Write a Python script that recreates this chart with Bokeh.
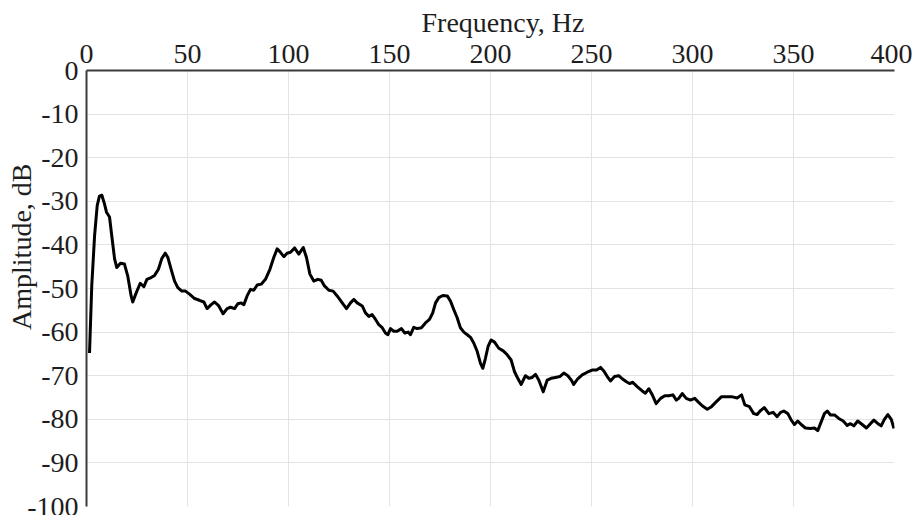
from bokeh.plotting import figure
from bokeh.models import Range1d, FixedTicker, LinearAxis, Grid, Title
from bokeh.embed import file_html
from bokeh.resources import INLINE

freq = [1.5, 2.6, 4.0, 5.3, 6.4, 7.6, 8.9, 9.9, 11.4, 12.5, 13.9, 15.0, 16.8, 18.8, 20.4,
        22.1, 22.9, 24.6, 26.6, 28.4, 29.9, 32.0, 33.7, 35.6, 37.3, 39.0, 40.3, 41.9, 43.6,
        45.2, 47.2, 49.0, 51.0, 53.5, 55.9, 58.1, 59.7, 61.7, 63.4, 65.5, 67.6, 69.6, 71.3,
        73.3, 74.9, 76.6, 77.9, 79.5, 81.2, 82.8, 84.5, 86.5, 88.6, 90.8, 92.7, 94.4, 96.0,
        97.7, 99.3, 101.0, 103.0, 105.1, 107.3, 108.9, 110.6, 112.5, 114.5, 116.2, 117.8,
        120.0, 122.1, 124.1, 126.6, 128.7, 130.7, 132.3, 134.0, 136.5, 138.1, 139.8, 141.4,
        143.1, 144.7, 146.4, 148.0, 149.2, 150.5, 152.1, 153.8, 155.9, 157.6, 159.3, 160.4,
        162.0, 163.7, 165.8, 167.8, 169.8, 171.4, 172.8, 174.4, 176.4, 178.6, 180.2, 181.8,
        183.5, 185.1, 186.8, 188.5, 190.1, 191.7, 193.4, 195.0, 196.2, 197.5, 198.8, 200.3,
        202.0, 204.1, 206.3, 208.3, 210.2, 211.9, 213.5, 215.2, 217.3, 219.0, 220.6, 222.3,
        223.9, 226.1, 228.1, 230.0, 232.2, 234.3, 236.3, 238.3, 240.0, 241.2, 243.2, 245.4,
        247.9, 250.3, 252.5, 254.5, 256.1, 257.8, 259.4, 261.4, 263.5, 265.2, 267.3, 268.8,
        270.4, 272.6, 275.1, 276.7, 278.4, 280.0, 282.0, 284.2, 286.3, 288.3, 290.3, 292.0,
        293.2, 294.9, 296.9, 299.0, 301.1, 302.8, 304.8, 307.3, 309.4, 311.7, 314.4, 316.7,
        319.3, 322.1, 324.3, 325.9, 328.2, 330.3, 332.0, 333.7, 335.5, 337.8, 339.9, 341.9,
        343.6, 345.2, 347.2, 348.9, 350.5, 352.1, 353.8, 355.9, 358.4, 360.4, 362.0, 363.7,
        365.3, 366.7, 368.3, 370.3, 372.4, 374.6, 376.6, 378.2, 379.9, 381.8, 384.0, 386.1,
        388.1, 389.8, 391.8, 393.4, 395.0, 396.7, 398.4, 399.7]

amplitude = [-64.8, -49.4, -37.9, -31.0, -28.8, -28.6, -30.6, -32.5, -33.6, -37.9, -43.2,
             -45.2, -44.2, -44.4, -47.1, -51.7, -53.1, -51.0, -48.8, -49.6, -47.9, -47.5,
             -47.0, -45.6, -43.1, -41.9, -42.9, -45.6, -48.3, -49.8, -50.6, -50.6, -51.3,
             -52.3, -52.7, -53.1, -54.6, -53.7, -53.1, -54.0, -55.8, -54.6, -54.3, -54.6,
             -53.5, -53.3, -53.7, -51.7, -50.2, -50.4, -49.2, -49.0, -47.9, -45.6, -42.9,
             -40.9, -41.7, -42.7, -41.9, -41.7, -40.7, -42.1, -40.6, -42.9, -46.7, -48.3,
             -47.9, -48.1, -49.4, -50.4, -50.6, -51.7, -53.3, -54.6, -53.3, -52.5, -53.3,
             -54.0, -55.6, -56.4, -56.0, -57.1, -58.3, -59.0, -60.2, -60.6, -59.2, -59.8,
             -59.8, -59.2, -60.2, -60.0, -60.6, -58.9, -59.2, -59.0, -57.9, -57.1, -55.6,
             -53.3, -52.1, -51.6, -51.7, -52.9, -54.8, -56.7, -59.0, -60.0, -60.6, -61.2,
             -62.5, -64.4, -67.1, -68.3, -66.0, -63.3, -61.8, -62.3, -63.7, -64.3, -65.2,
             -66.4, -69.1, -70.6, -72.0, -70.0, -70.6, -70.4, -69.7, -71.0, -73.7, -71.0,
             -70.6, -70.4, -70.2, -69.4, -70.0, -71.0, -72.0, -70.7, -69.8, -69.2, -68.7,
             -68.7, -68.1, -68.9, -70.2, -71.2, -70.2, -70.0, -70.7, -71.4, -71.8, -71.5,
             -72.5, -73.5, -74.0, -73.0, -74.3, -76.4, -75.2, -74.6, -74.6, -74.4, -75.6,
             -75.2, -74.1, -75.2, -75.6, -75.2, -76.0, -76.9, -77.7, -77.1, -76.0, -74.8,
             -74.8, -74.8, -75.1, -74.4, -76.7, -77.1, -78.7, -78.9, -78.0, -77.3, -78.7,
             -78.4, -79.4, -78.4, -78.1, -78.7, -80.2, -81.2, -80.4, -81.2, -82.0, -82.1,
             -82.0, -82.6, -80.6, -78.7, -78.1, -79.0, -79.0, -79.8, -80.4, -81.4, -81.0,
             -81.5, -80.4, -81.2, -82.0, -81.0, -80.2, -81.0, -81.5, -80.0, -78.9, -80.0,
             -82.1]

x_ticks = [0, 50, 100, 150, 200, 250, 300, 350, 400]
x_tick_labels = ["0", "50", "100", "150", "200", "250", "300", "350", "400"]
y_ticks = [0, -10, -20, -30, -40, -50, -60, -70, -80, -90, -100]
y_tick_labels = ["0", "-10", "-20", "-30", "-40", "-50", "-60", "-70", "-80", "-90", "-100"]

x_title = "Frequency, Hz"
y_title = "Amplitude, dB"

FONT = "Liberation Serif"
TEXT_COLOR = "#1e1e1e"

p = figure(width=912, height=515, output_backend="svg", toolbar_location=None, title=None,
           x_range=Range1d(0, 400), y_range=Range1d(-100, 0),
           x_axis_location=None, y_axis_location=None,
           min_border_left=86, min_border_top=69, min_border_right=18, min_border_bottom=9)
p.outline_line_color = None
p.background_fill_color = "white"
p.border_fill_color = "white"

xaxis = LinearAxis(ticker=FixedTicker(ticks=x_ticks),
                   major_label_overrides={t: l for t, l in zip(x_ticks, x_tick_labels)})
yaxis = LinearAxis(ticker=FixedTicker(ticks=y_ticks),
                   major_label_overrides={t: l for t, l in zip(y_ticks, y_tick_labels)})
for ax in (xaxis, yaxis):
    ax.axis_line_color = "#3a3a3a"
    ax.axis_line_width = 2
    ax.major_tick_line_color = None
    ax.minor_tick_line_color = None
    ax.major_tick_out = 0
    ax.major_tick_in = 0
    ax.major_label_text_font = FONT
    ax.major_label_text_font_size = "28px"
    ax.major_label_text_color = TEXT_COLOR
    ax.major_label_text_font_style = "normal"
xaxis.major_label_standoff = 8
yaxis.major_label_standoff = 8
p.add_layout(xaxis, "above")
p.add_layout(yaxis, "left")

p.add_layout(Title(text=x_title, align="left", offset=335, vertical_align="bottom",
                   standoff=8, text_font=FONT, text_font_size="28px",
                   text_font_style="normal", text_color=TEXT_COLOR), "above")
p.add_layout(Title(text=y_title, align="right", offset=93, vertical_align="bottom",
                   standoff=-24, text_font=FONT, text_font_size="28px",
                   text_font_style="normal", text_color=TEXT_COLOR), "left")

p.add_layout(Grid(dimension=0, ticker=xaxis.ticker, grid_line_color="#e3e3e3", grid_line_width=1))
p.add_layout(Grid(dimension=1, ticker=yaxis.ticker, grid_line_color="#e3e3e3", grid_line_width=1))

p.line(freq, amplitude, line_color="black", line_width=3, line_join="round")

open("out.html", "w").write(file_html(p, INLINE))
